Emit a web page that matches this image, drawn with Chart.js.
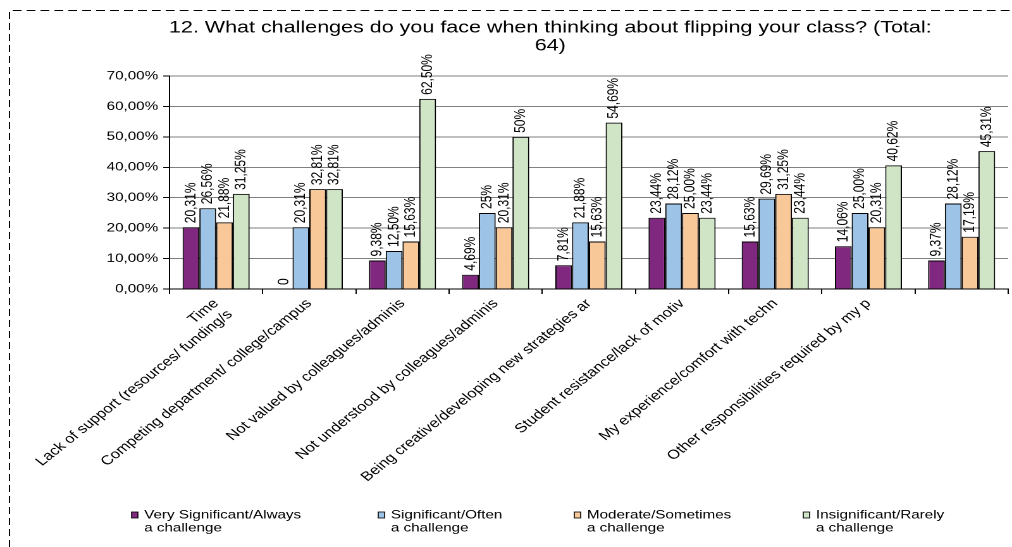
<!DOCTYPE html>
<html>
<head>
<meta charset="utf-8">
<title>Flipping your class - challenges</title>
<script src="https://cdn.jsdelivr.net/npm/chart.js@4.4.1/dist/chart.umd.min.js"></script>
<style>
  html, body { margin: 0; padding: 0; background: #fff; overflow: hidden; }
  /* the sheet export is wider than it was drawn, so the 800px chart is stretched out */
  #wrap { position: absolute; left: 0; top: 0; width: 800px; height: 547px;
          transform: scaleX(1.265); transform-origin: 0 0; }
</style>
</head>
<body>
<div id="wrap"><canvas id="challenges" width="800" height="547"></canvas></div>
<script>
const categories = [
  ["Time", "Lack of support (resources/ funding/s"],
  "Competing department/ college/campus",
  "Not valued by colleagues/adminis",
  "Not understood by colleagues/adminis",
  "Being creative/developing new strategies ar",
  "Student resistance/lack of motiv",
  "My experience/comfort with techn",
  "Other responsibilities required by my p",
  "",
];

// percentages exactly as printed in the sheet (comma decimals)
const verySignificant = ["20,31", "0", "9,38", "4,69", "7,81", "23,44", "15,63", "14,06", "9,37"];
const significant = ["26,56", "20,31", "12,50", "25", "21,88", "28,12", "29,69", "25,00", "28,12"];
const moderate = ["21,88", "32,81", "15,63", "20,31", "15,63", "25,00", "31,25", "20,31", "17,19"];
const insignificant = ["31,25", "32,81", "62,50", "50", "54,69", "23,44", "23,44", "40,62", "45,31"];

const yTicks = [0, 10, 20, 30, 40, 50, 60, 70];

const FONT = "'Liberation Sans', Arial, sans-serif";
Chart.defaults.font.family = FONT;
Chart.defaults.color = "#000";

const toNum = (s) => Number(s.replace(",", "."));

const makeSet = (label, printed, color) => ({
  label: label,
  data: printed.map(toNum),
  printed: printed,
  backgroundColor: color,
  borderColor: "#000",
  borderWidth: 1,
  categoryPercentage: 0.72,
  barPercentage: 1.0,
});

// white page + dashed frame on the left and top
const dashedFrame = {
  id: "dashedFrame",
  beforeDraw(chart) {
    const ctx = chart.ctx;
    ctx.save();
    ctx.fillStyle = "#fff";
    ctx.fillRect(0, 0, chart.width, chart.height);
    ctx.strokeStyle = "#000";
    ctx.lineWidth = 1;
    ctx.setLineDash([7, 4]);
    ctx.beginPath();
    ctx.moveTo(7.5, chart.height);
    ctx.lineTo(7.5, 10.5);
    ctx.lineTo(chart.width, 10.5);
    ctx.stroke();
    ctx.restore();
  },
};

// vertical value labels above each bar
const barValueLabels = {
  id: "barValueLabels",
  afterDatasetsDraw(chart) {
    const ctx = chart.ctx;
    ctx.save();
    ctx.font = "12px " + FONT;
    ctx.fillStyle = "#000";
    ctx.textAlign = "left";
    ctx.textBaseline = "middle";
    chart.data.datasets.forEach((ds, i) => {
      chart.getDatasetMeta(i).data.forEach((bar, j) => {
        const raw = ds.printed[j];
        const text = raw === "0" ? "0" : raw + "%";
        ctx.save();
        ctx.translate(bar.x, bar.y - 4);
        ctx.rotate(-Math.PI / 2);
        ctx.fillText(text, 0, 0);
        ctx.restore();
      });
    });
    ctx.restore();
  },
};

// legend along the bottom, labels wrapped on two lines
const legendX = [104, 299, 454, 635];
const wrappedLegend = {
  id: "wrappedLegend",
  afterDraw(chart) {
    const ctx = chart.ctx;
    ctx.save();
    ctx.font = "12px " + FONT;
    ctx.textAlign = "left";
    ctx.textBaseline = "middle";
    chart.data.datasets.forEach((ds, i) => {
      const x = legendX[i];
      ctx.fillStyle = ds.backgroundColor;
      ctx.fillRect(x, 512, 5, 6);
      ctx.strokeStyle = "#000";
      ctx.lineWidth = 0.8;
      ctx.strokeRect(x, 512, 5, 6);
      ctx.fillStyle = "#000";
      ds.label.split("\n").forEach((line, k) => {
        ctx.fillText(line, x + 10, 515 + k * 13);
      });
    });
    ctx.restore();
  },
};

new Chart(document.getElementById("challenges"), {
  type: "bar",
  data: {
    labels: categories,
    datasets: [
      makeSet("Very Significant/Always\na challenge", verySignificant, "#80287F"),
      makeSet("Significant/Often\na challenge", significant, "#9DC3E6"),
      makeSet("Moderate/Sometimes\na challenge", moderate, "#F9C899"),
      makeSet("Insignificant/Rarely\na challenge", insignificant, "#CFE5C6"),
    ],
  },
  options: {
    responsive: false,
    devicePixelRatio: 2,
    animation: false,
    layout: { padding: { left: 73, right: 3, top: 0, bottom: 0 } },
    plugins: {
      legend: { display: false },
      tooltip: { enabled: false },
      title: {
        display: true,
        text: [
          "12. What challenges do you face when thinking about flipping your class? (Total:",
          "64)",
        ],
        color: "#000",
        font: { size: 17, weight: "normal", lineHeight: 1.06 },
        padding: { top: 19, bottom: 21 },
      },
    },
    scales: {
      x: {
        grid: { drawOnChartArea: false, tickLength: 5, tickColor: "#000", offset: true },
        border: { color: "#000" },
        ticks: {
          autoSkip: false,
          minRotation: 45,
          maxRotation: 45,
          color: "#000",
          font: { size: 13 },
          padding: 2,
        },
        afterFit(scale) {
          scale.height = 258;
          scale.paddingLeft = 0;
          scale.paddingRight = 0;
        },
      },
      y: {
        min: 0,
        max: 70,
        grid: { color: "#808080", tickLength: 5, tickColor: "#000" },
        border: { color: "#000" },
        ticks: {
          color: "#000",
          font: { size: 12 },
          padding: 4,
          callback: (v) => v.toFixed(2).replace(".", ",") + "%",
        },
        afterBuildTicks(scale) {
          scale.ticks = yTicks.map((v) => ({ value: v }));
        },
        afterFit(scale) {
          scale.width = 61;
        },
      },
    },
  },
  plugins: [dashedFrame, barValueLabels, wrappedLegend],
});
</script>
</body>
</html>
